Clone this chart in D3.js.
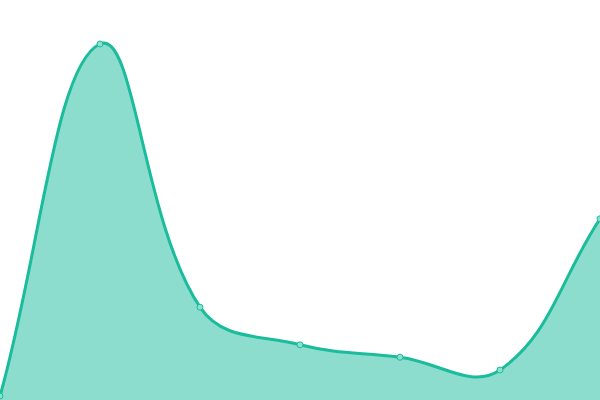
<!DOCTYPE html>
<html>
<head>
<meta charset="utf-8">
<script src="https://cdn.jsdelivr.net/npm/d3@7"></script>
<style>
  html, body { margin: 0; padding: 0; background: #fff; overflow: hidden; }
  svg { display: block; }
</style>
</head>
<body>
<div id="chart"></div>
<script>
// data
const labels = [0, 1, 2, 3, 4, 5, 6];
const values = [1, 89, 23.2, 13.8, 10.7, 7.5, 45.3];

const w = 600;   // width of svg
const h = 400;   // height of svg
const tension = 0.4;

const xScale = d3.scaleLinear()
                .domain([0, labels.length - 1])
                .range([0, w]);

const yScale = d3.scaleLinear()
                .domain([0, 100])
                .range([h, 0]);

// spline curve with distance-weighted control points, works for d3.line and d3.area
function SplineCurve(context) { this._context = context; }
SplineCurve.prototype = {
    areaStart: function() { this._line = 0; },
    areaEnd: function() { this._line = NaN; },
    lineStart: function() { this._pts = []; },
    point: function(x, y) { this._pts.push([+x, +y]); },
    lineEnd: function() {
        const p = this._pts, n = p.length, c = this._context;
        if (n) {
            if (this._line) c.lineTo(p[0][0], p[0][1]);
            else c.moveTo(p[0][0], p[0][1]);
            const cpIn = [], cpOut = [];
            for (let i = 0; i < n; i++) {
                const prev = p[Math.max(i - 1, 0)], cur = p[i], next = p[Math.min(i + 1, n - 1)];
                const d01 = Math.hypot(cur[0] - prev[0], cur[1] - prev[1]);
                const d12 = Math.hypot(next[0] - cur[0], next[1] - cur[1]);
                let s01 = d01 / (d01 + d12), s12 = d12 / (d01 + d12);
                if (isNaN(s01)) s01 = 0;
                if (isNaN(s12)) s12 = 0;
                const fa = tension * s01, fb = tension * s12;
                const dx = next[0] - prev[0], dy = next[1] - prev[1];
                cpIn[i] = [clampX(cur[0] - fa * dx), clampY(cur[1] - fa * dy)];
                cpOut[i] = [clampX(cur[0] + fb * dx), clampY(cur[1] + fb * dy)];
            }
            for (let i = 0; i < n - 1; i++) {
                c.bezierCurveTo(cpOut[i][0], cpOut[i][1], cpIn[i + 1][0], cpIn[i + 1][1], p[i + 1][0], p[i + 1][1]);
            }
        }
        if (this._line || (this._line !== 0 && n === 1)) c.closePath();
        this._line = 1 - this._line;
    }
};
const splineCurve = ctx => new SplineCurve(ctx);

function clampX(x) { return Math.max(0, Math.min(w, x)); }
function clampY(y) { return Math.max(0, Math.min(h, y)); }

const svg = d3.select("#chart")
              .append("svg")
              .attr("width", w)
              .attr("height", h);

// filled area under the line
const area = d3.area()
               .x((d, i) => xScale(labels[i]))
               .y0(yScale(0))
               .y1(d => yScale(d))
               .curve(splineCurve);

svg.append("path")
   .datum(values)
   .attr("d", area)
   .style("fill", "rgba(26,188,156,0.5)");

// the line itself
const line = d3.line()
               .x((d, i) => xScale(labels[i]))
               .y(d => yScale(d))
               .curve(splineCurve);

svg.append("path")
   .datum(values)
   .attr("d", line)
   .style("fill", "none")
   .style("stroke", "#1abc9c")
   .style("stroke-width", 3);

// point markers
svg.selectAll("circle")
   .data(values)
   .enter()
   .append("circle")
   .attr("cx", (d, i) => xScale(labels[i]))
   .attr("cy", d => yScale(d))
   .attr("r", 3)
   .style("fill", "#8ce0cf")
   .style("stroke", "#1abc9c")
   .style("stroke-width", 1);
</script>
</body>
</html>
